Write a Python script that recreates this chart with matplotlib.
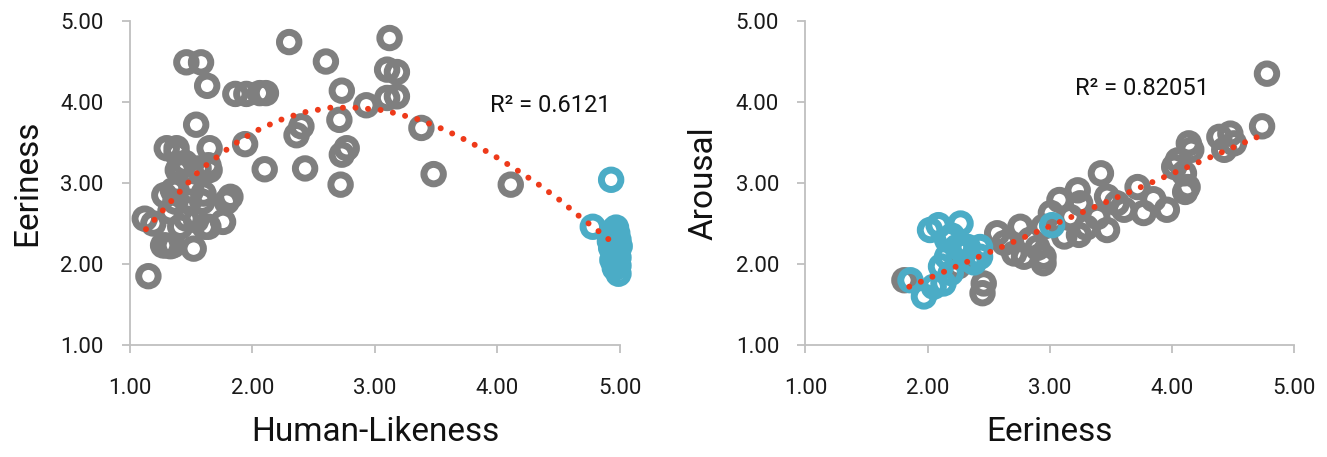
import numpy as np
import matplotlib
matplotlib.use("Agg")
import matplotlib.pyplot as plt

plt.rcParams['font.family'] = ['Roboto', 'DejaVu Sans']

# Left chart: Human-Likeness vs Eeriness
hl_gray = [1.15, 1.46, 1.58, 1.63, 1.54, 1.86, 1.95, 2.06, 2.11, 1.94, 2.10, 2.30, 2.60, 2.73,
           2.71, 2.40, 2.36, 2.43, 2.77, 2.73, 2.72, 2.93, 3.12, 3.10, 3.18, 3.10, 3.18, 3.38,
           3.48, 4.11, 1.30, 1.38, 1.65, 1.41, 1.64, 1.38, 1.37, 1.48, 1.59, 1.82, 1.79, 1.12,
           1.19, 1.41, 1.61, 1.76, 1.29, 1.35, 1.52, 1.54, 1.38, 1.39, 1.56, 1.65, 1.35, 1.50,
           1.60, 1.33, 1.46, 1.64, 1.27, 1.33, 1.45, 1.28]
eer_gray = [1.85, 4.49, 4.49, 4.20, 3.72, 4.10, 4.10, 4.11, 4.11, 3.48, 3.17, 4.74, 4.50, 4.14,
            3.78, 3.70, 3.59, 3.18, 3.43, 3.35, 2.98, 3.96, 4.79, 4.40, 4.37, 4.05, 4.07, 3.68,
            3.11, 2.98, 3.43, 3.43, 3.43, 3.20, 3.22, 2.91, 2.77, 2.77, 2.77, 2.83, 2.77, 2.56,
            2.50, 2.46, 2.46, 2.52, 2.23, 2.23, 2.19, 2.54, 3.37, 3.16, 3.18, 3.16, 2.91, 2.91,
            2.87, 2.65, 2.56, 2.46, 2.23, 2.22, 3.25, 2.85]
hl_blue = [4.93, 4.78, 4.95, 4.97, 4.98, 4.95, 4.99, 4.97, 4.93, 4.98, 4.96, 4.99, 4.94, 4.97,
           4.99, 4.96, 4.99, 4.92, 5.00, 4.95]
eer_blue = [3.04, 2.46, 2.42, 2.45, 2.38, 2.32, 2.30, 2.25, 2.20, 2.17, 2.12, 2.08, 2.05, 2.02,
            1.98, 1.95, 1.88, 2.28, 2.22, 2.40]
# trendline (poly, order 2)
trend1_x = [1.13, 1.35, 1.57, 1.83, 2.01, 2.21, 2.41, 2.63, 2.84, 3.06, 3.17, 3.37, 3.58, 3.77,
            3.96, 4.15, 4.33, 4.51, 4.67, 4.84, 4.93]
trend1_y = [2.43, 2.80, 3.16, 3.46, 3.63, 3.77, 3.87, 3.93, 3.93, 3.90, 3.86, 3.78, 3.65, 3.51,
            3.35, 3.17, 2.99, 2.79, 2.59, 2.39, 2.28]

# Right chart: Eeriness vs Arousal
e_gray = [4.78, 4.74, 4.39, 4.48, 4.43, 4.51, 4.14, 4.16, 4.05, 4.02, 4.10, 4.13, 4.11, 3.96,
          3.72, 3.77, 3.61, 3.42, 3.47, 3.39, 3.47, 3.23, 3.25, 3.08, 3.17, 3.01, 2.95, 3.12,
          3.24, 2.76, 2.84, 2.57, 2.63, 2.71, 2.79, 2.95, 2.95, 2.46, 2.45, 1.81, 2.25, 3.30,
          2.90, 3.55, 3.85]
ar_gray = [4.35, 3.70, 3.57, 3.61, 3.41, 3.49, 3.49, 3.41, 3.28, 3.20, 3.12, 2.95, 2.89, 2.67,
           2.95, 2.63, 2.67, 3.12, 2.83, 2.58, 2.42, 2.91, 2.75, 2.79, 2.58, 2.63, 2.46, 2.34,
           2.36, 2.46, 2.30, 2.38, 2.26, 2.13, 2.09, 2.09, 2.01, 1.76, 1.64, 1.80, 1.97, 2.45,
           2.20, 2.75, 2.80]
e_blue = [3.02, 2.02, 2.09, 2.27, 2.16, 2.33, 2.43, 2.35, 2.16, 2.11, 2.19, 2.13, 1.97, 1.86,
          2.43, 2.24, 2.05, 2.30, 2.20, 2.38]
ar_blue = [2.48, 2.42, 2.48, 2.50, 2.30, 2.21, 2.09, 2.05, 2.09, 1.97, 1.89, 1.76, 1.60, 1.80,
           2.21, 2.21, 1.72, 2.15, 2.35, 2.02]
trend2_x = [1.85, 4.75]
trend2_y = [1.72, 3.60]

ticks = [1.0, 2.0, 3.0, 4.0, 5.0]
GRAY = '#7F7F7F'
BLUE = '#4BACC6'
RED = '#EE3A1A'
AXC = '#BFBFBF'

fig = plt.figure(figsize=(13.27, 4.57), dpi=100)
ax1 = fig.add_axes([0.098, 0.245, 0.369, 0.709])
ax2 = fig.add_axes([0.607, 0.245, 0.368, 0.709])


def style(ax, xlabel, ylabel):
    ax.set_xlim(1, 5)
    ax.set_ylim(1, 5)
    ax.set_xticks(ticks)
    ax.set_yticks(ticks)
    ax.set_xticklabels([f"{t:.2f}" for t in ticks])
    ax.set_yticklabels([f"{t:.2f}" for t in ticks])
    for s in ['top', 'right']:
        ax.spines[s].set_visible(False)
    for s in ['left', 'bottom']:
        ax.spines[s].set_color(AXC)
        ax.spines[s].set_linewidth(1.3)
    ax.tick_params(axis='both', color=AXC, labelcolor='#1a1a1a', labelsize=16,
                   length=6, width=1.3, direction='out')
    ax.tick_params(axis='x', pad=18)
    ax.tick_params(axis='y', pad=13)
    ax.set_xlabel(xlabel, fontsize=24, labelpad=12, color='#111111')
    ax.set_ylabel(ylabel, fontsize=24, labelpad=12, color='#111111')


ring = dict(s=196, facecolors='none', linewidths=5.0, clip_on=False, zorder=3)
ax1.scatter(hl_gray, eer_gray, edgecolors=GRAY, **ring)
ax1.scatter(hl_blue, eer_blue, edgecolors=BLUE, **ring)
ax1.plot(trend1_x, trend1_y, color=RED, lw=4.3, dashes=[0.01, 2.1],
         dash_capstyle='round', zorder=4)
ax1.text(3.94, 3.96, "R² = 0.6121", fontsize=17, color='#111111', va='center')
style(ax1, "Human-Likeness", "Eeriness")

ax2.scatter(e_gray, ar_gray, edgecolors=GRAY, **ring)
ax2.scatter(e_blue, ar_blue, edgecolors=BLUE, **ring)
ax2.plot(trend2_x, trend2_y, color=RED, lw=4.3, dashes=[0.01, 2.1],
         dash_capstyle='round', zorder=4)
ax2.text(3.21, 4.17, "R² = 0.82051", fontsize=17, color='#111111', va='center')
style(ax2, "Eeriness", "Arousal")

fig.savefig("out.png", dpi=100)
